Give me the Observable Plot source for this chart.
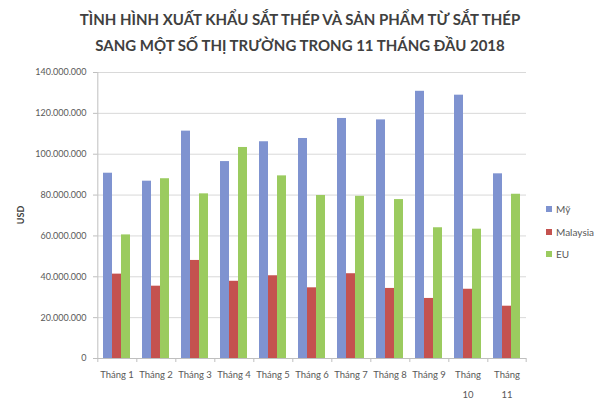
<!DOCTYPE html>
<html>
<head>
<meta charset="utf-8">
<script src="https://cdn.jsdelivr.net/npm/d3@7"></script>
<script src="https://cdn.jsdelivr.net/npm/@observablehq/plot@0.6"></script>
<style>
  html, body { margin: 0; padding: 0; background: #fff; }
  #wrap { position: relative; width: 600px; height: 400px; overflow: hidden; font-family: Lato, "Open Sans", sans-serif; }
  #title { position: absolute; left: 0; top: 6px; width: 600px; text-align: center; font-weight: bold; font-size: 15px; line-height: 26px; color: #404040; }
  #chart { position: absolute; left: 0; top: 60px; }
  #ylab { position: absolute; left: 20px; top: 215px; transform: translate(-50%, -50%) rotate(-90deg); font-size: 9px; font-weight: bold; color: #404040; }
  #legend { position: absolute; left: 546px; top: 198px; font-size: 10px; color: #595959; }
  .item { display: flex; align-items: center; height: 22.5px; }
  .sw { width: 6px; height: 6px; margin-right: 4px; }
</style>
</head>
<body>
<div id="wrap">
  <div id="title">TÌNH HÌNH XUẤT KHẨU SẮT THÉP VÀ SẢN PHẨM TỪ SẮT THÉP<br>SANG MỘT SỐ THỊ TRƯỜNG TRONG 11 THÁNG ĐẦU 2018</div>
  <div id="chart"></div>
  <div id="ylab">USD</div>
  <div id="legend"></div>
</div>
<script>
const months = ["Tháng 1","Tháng 2","Tháng 3","Tháng 4","Tháng 5","Tháng 6","Tháng 7","Tháng 8","Tháng 9","Tháng 10","Tháng 11"];
const series = ["Mỹ","Malaysia","EU"];
const my       = [90.7e6, 86.8e6, 111.3e6, 96.4e6, 106.1e6, 107.7e6, 117.5e6, 116.8e6, 130.8e6, 128.9e6, 90.4e6];
const malaysia = [41.3e6, 35.4e6, 48.0e6, 37.8e6, 40.5e6, 34.6e6, 41.5e6, 34.3e6, 29.4e6, 33.9e6, 25.6e6];
const eu       = [60.5e6, 88.0e6, 80.6e6, 103.3e6, 89.4e6, 79.8e6, 79.4e6, 77.8e6, 64.0e6, 63.3e6, 80.4e6];
const yTicks = [0, 20e6, 40e6, 60e6, 80e6, 100e6, 120e6, 140e6];
const colors = ["#7f93d0", "#c4524f", "#9bcb5f"];

const values = [my, malaysia, eu];
const data = months.flatMap((m, i) => series.map((s, j) => ({month: m, series: s, value: values[j][i]})));

const fmt = d3.formatLocale({decimal: ",", thousands: ".", grouping: [3], currency: ["", ""]}).format(",.0f");
const wrapLabel = d => d.length > 7 ? d.replace(" ", "\n") : d;

const W = 600, H = 340, ML = 95, MR = 72, MT = 12, MB = 42;
const padOuter = 0.57;
const step = (W - ML - MR) / months.length / (series.length + 2 * padOuter);
const edge = step * (padOuter + 0.5);
const axisColor = "#bfbfbf";

const chart = Plot.plot({
  width: W, height: H,
  marginLeft: ML, marginRight: MR, marginTop: MT, marginBottom: MB,
  style: {fontFamily: "Lato, 'Open Sans', sans-serif", fontSize: "9px", color: "#595959", background: "white", overflow: "visible"},
  fx: {domain: months, padding: 0, label: null},
  x: {domain: series, paddingInner: 0, paddingOuter: padOuter, axis: null},
  y: {domain: [0, 140e6], label: null},
  color: {domain: series, range: colors},
  marks: [
    Plot.gridY(yTicks, {stroke: "#d9d9d9", strokeOpacity: 1}),
    Plot.axisY(yTicks, {tickFormat: fmt, tickSize: 4, tickPadding: 7, stroke: axisColor, fill: "#595959", label: null}),
    Plot.axisFx({anchor: "bottom", tickSize: 0, tickPadding: 5, tickFormat: wrapLabel, lineHeight: 2.1, fontSize: 9.5, label: null, fill: "#595959"}),
    Plot.barY(data, {fx: "month", x: "series", y: "value", fill: "series"}),
    Plot.ruleY([0], {stroke: axisColor}),
    Plot.ruleX(months, {fx: d => d, x: () => series[0], dx: -edge, y1: d => d === months[0] ? 140e6 : 0, y2: 0, insetBottom: -4, stroke: axisColor}),
    Plot.ruleX(months.slice(-1), {fx: d => d, x: () => series[series.length - 1], dx: edge, y1: 0, y2: 0, insetBottom: -4, stroke: axisColor})
  ]
});
document.getElementById("chart").appendChild(chart);

const legend = document.getElementById("legend");
series.forEach((s, i) => {
  const it = document.createElement("div");
  it.className = "item";
  const sw = document.createElement("div");
  sw.className = "sw";
  sw.style.background = colors[i];
  const tx = document.createElement("span");
  tx.textContent = s;
  it.appendChild(sw); it.appendChild(tx);
  legend.appendChild(it);
});
</script>
</body>
</html>
